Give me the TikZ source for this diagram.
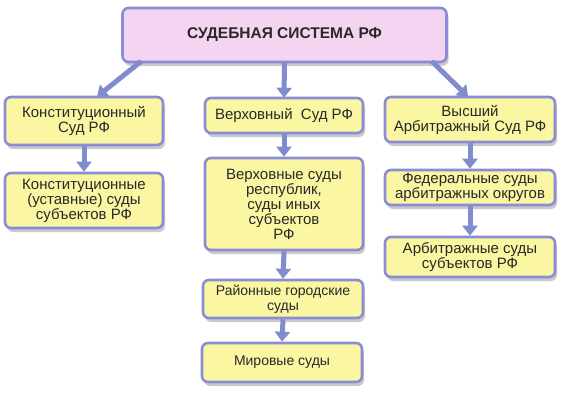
\documentclass[tikz,border=0pt]{standalone}
\usepackage{fontspec}
\setmainfont{Liberation Sans}
\usetikzlibrary{arrows.meta,shadows}
\definecolor{bordc}{RGB}{138,140,214}
\definecolor{arrc}{RGB}{128,140,206}
\definecolor{yfill}{RGB}{250,246,162}
\definecolor{pfill}{RGB}{244,212,240}
\definecolor{txtc}{RGB}{40,40,40}
\begin{document}
\begin{tikzpicture}[x=1pt,y=-1pt,
  box/.style={draw=bordc,line width=2.6pt,rounded corners=6pt,fill=yfill,
    align=center,inner sep=0pt,text=txtc,
    font=\fontsize{15}{15}\selectfont,
    drop shadow={shadow xshift=2pt,shadow yshift=-4pt,opacity=0.35,fill=black!60}},
  smallbox/.style={box,font=\fontsize{14}{15}\selectfont},
  titlebox/.style={box,fill=pfill,font=\fontsize{15.5}{17}\selectfont\bfseries},
  arr/.style={draw=arrc,line width=5pt,-{Triangle[width=15pt,length=10pt]}}]
\useasboundingbox (0,0) rectangle (569,405);
\node[titlebox,minimum width=324pt,minimum height=54pt] (top) at (284.5,35) {СУДЕБНАЯ СИСТЕМА РФ};
% left column
\node[box,minimum width=158pt,minimum height=48pt] (k1) at (84,121) {Конституционный\\Суд РФ};
\node[box,minimum width=158pt,minimum height=55pt] (k2) at (84,200.5) {Конституционные\\(уставные) суды\\субъектов РФ};
% middle column
\node[box,minimum width=158pt,minimum height=35pt] (v1) at (284,115.5) {Верховный\ \ Суд РФ};
\node[box,minimum width=158pt,minimum height=92pt] (v2) at (284,204) {Верховные суды\\республик,\\суды иных\\субъектов\\РФ};
\node[smallbox,minimum width=160pt,minimum height=38pt] (v3) at (283,299) {Районные городские\\суды};
\node[smallbox,minimum width=160pt,minimum height=39pt] (v4) at (282,362.5) {Мировые суды};
% right column
\node[box,minimum width=170pt,minimum height=45pt] (a1) at (470,119.5) {Высший\\Арбитражный Суд РФ};
\node[box,minimum width=170pt,minimum height=35pt] (a2) at (470,187.5) {Федеральные суды\\арбитражных округов};
\node[box,minimum width=170pt,minimum height=40pt] (a3) at (470,257) {Арбитражные суды\\субъектов РФ};
% arrows
\draw[arr] ([xshift=20pt,yshift=2pt]top.south west) -- ([xshift=13pt,yshift=-1pt]k1.north);
\draw[arr] ([yshift=1pt]top.south) -- ([yshift=-1pt]v1.north);
\draw[arr] ([xshift=-16pt,yshift=2pt]top.south east) -- ([xshift=-2pt,yshift=-1pt]a1.north);
\draw[arr] (k1.south) -- (k2.north);
\draw[arr] (v1.south) -- (v2.north);
\draw[arr] (v2.south) -- (v3.north);
\draw[arr] (v3.south) -- (v4.north);
\draw[arr] (a1.south) -- (a2.north);
\draw[arr] (a2.south) -- (a3.north);
\end{tikzpicture}
\end{document}
